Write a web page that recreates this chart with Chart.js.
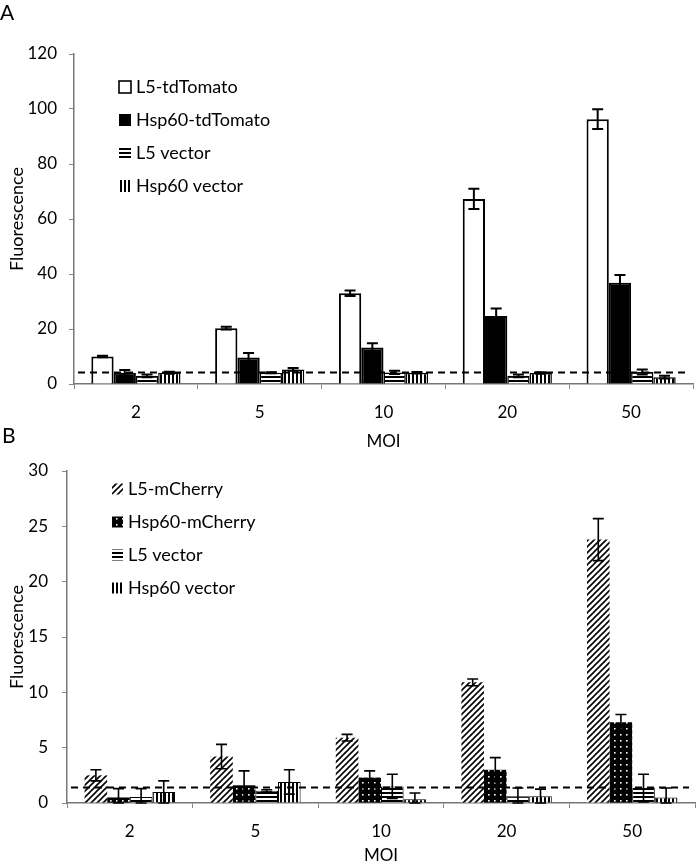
<!DOCTYPE html>
<html>
<head>
<meta charset="utf-8">
<script src="https://cdn.jsdelivr.net/npm/chart.js@4.4.1/dist/chart.umd.min.js"></script>
<style>
  body { margin: 0; background: #fff; width: 698px; height: 864px; position: relative; overflow: hidden; font-family: Lato, sans-serif; }
  canvas { position: absolute; left: 0; }
  #chartA { top: 0; }
  #chartB { top: 444px; }
  .letter { position: absolute; font-size: 21px; line-height: 1; color: #000; z-index: 2; }
</style>
</head>
<body>
<div class="letter" style="left:0px;top:1px">A</div>
<div class="letter" style="left:2px;top:424px">B</div>
<canvas id="chartA" width="698" height="452"></canvas>
<canvas id="chartB" width="698" height="422"></canvas>
<script>
// MOI categories (same for both panels)
var moiLabels = ['2', '5', '10', '20', '50'];

// panel A - tdTomato
var l5Tomato      = [10.0, 20.3, 33.0, 67.3, 96.3];
var l5TomatoErr   = [0.3, 0.5, 1.0, 3.7, 3.6];
var hspTomato     = [4.1, 9.6, 13.3, 24.7, 36.8];
var hspTomatoErr  = [1.0, 1.7, 1.5, 2.8, 2.8];
var l5VectorA     = [3.0, 4.1, 4.2, 3.0, 4.4];
var l5VectorAErr  = [0.5, 0.2, 0.6, 0.5, 0.9];
var hspVectorA    = [4.1, 5.3, 4.1, 4.0, 2.5];
var hspVectorAErr = [0.4, 0.5, 0.3, 0.3, 0.5];
var cutoffA = 4.2;

// panel B - mCherry
var l5Cherry      = [2.5, 4.2, 5.9, 10.9, 23.8];
var l5CherryErr   = [0.5, 1.1, 0.3, 0.3, 1.9];
var hspCherry     = [0.5, 1.6, 2.3, 3.0, 7.3];
var hspCherryErr  = [0.8, 1.3, 0.6, 1.1, 0.7];
var l5VectorB     = [0.55, 1.1, 1.5, 0.6, 1.35];
var l5VectorBErr  = [0.75, 0.1, 1.1, 0.75, 1.25];
var hspVectorB    = [1.0, 1.9, 0.35, 0.6, 0.5];
var hspVectorBErr = [1.0, 1.1, 0.55, 0.65, 0.85];
var cutoffB = 1.4;

Chart.defaults.font.family = 'Lato, sans-serif';
Chart.defaults.color = '#000';

// little tiles used as bar fills
function makePattern(kind) {
    var c = document.createElement('canvas');
    var size = kind === 'diag' || kind === 'dots' ? 6 : 4;
    c.width = size; c.height = size;
    var g = c.getContext('2d');
    g.fillStyle = kind === 'dots' ? '#000' : '#fff';
    g.fillRect(0, 0, size, size);
    g.fillStyle = '#000';
    if (kind === 'hstripe') {
        g.fillRect(0, 0, size, 2);
    } else if (kind === 'vstripe') {
        g.fillRect(0, 0, 2, size);
    } else if (kind === 'diag') {
        g.strokeStyle = '#000';
        g.lineWidth = 1.6;
        g.beginPath();
        g.moveTo(0, 6); g.lineTo(6, 0);
        g.moveTo(-1, 1); g.lineTo(1, -1);
        g.moveTo(5, 7); g.lineTo(7, 5);
        g.stroke();
    } else if (kind === 'dots') {
        g.fillStyle = '#fff';
        g.fillRect(2, 2, 1.6, 1.6);
    }
    return g.createPattern(c, 'repeat');
}

var errorBars = {
    id: 'errorBars',
    afterDatasetsDraw: function(chart, args, opts) {
        var ctx = chart.ctx;
        var y = chart.scales.y;
        ctx.save();
        ctx.strokeStyle = '#000';
        ctx.lineWidth = opts.lineWidth;
        chart.data.datasets.forEach(function(ds, i) {
            var meta = chart.getDatasetMeta(i);
            meta.data.forEach(function(bar, j) {
                var e = ds.errors[j];
                if (!e) return;
                var top = y.getPixelForValue(ds.data[j] + e);
                var bot = y.getPixelForValue(Math.max(ds.data[j] - e, 0));
                var half = opts.cap / 2;
                ctx.beginPath();
                ctx.moveTo(bar.x, top); ctx.lineTo(bar.x, bot);
                ctx.moveTo(bar.x - half, top); ctx.lineTo(bar.x + half, top);
                ctx.moveTo(bar.x - half, bot); ctx.lineTo(bar.x + half, bot);
                ctx.stroke();
            });
        });
        ctx.restore();
    }
};

var cutoffLine = {
    id: 'cutoffLine',
    afterDatasetsDraw: function(chart, args, opts) {
        var ctx = chart.ctx;
        var area = chart.chartArea;
        var py = chart.scales.y.getPixelForValue(opts.value);
        ctx.save();
        ctx.strokeStyle = '#000';
        ctx.lineWidth = 2;
        ctx.setLineDash([7, 5]);
        ctx.beginPath();
        ctx.moveTo(area.left + 4, py);
        ctx.lineTo(area.right - 6, py);
        ctx.stroke();
        ctx.restore();
    }
};

var insideLegend = {
    id: 'insideLegend',
    afterDraw: function(chart, args, opts) {
        var ctx = chart.ctx;
        ctx.save();
        ctx.font = opts.size + 'px Lato, sans-serif';
        ctx.textBaseline = 'middle';
        chart.data.datasets.forEach(function(ds, i) {
            var y = opts.y + i * opts.step;
            var b = opts.box;
            ctx.fillStyle = ds.backgroundColor;
            ctx.fillRect(opts.x, y - b / 2, b, b);
            if (ds.legendBorder) {
                ctx.strokeStyle = '#000';
                ctx.lineWidth = 1.6;
                ctx.strokeRect(opts.x, y - b / 2, b, b);
            }
            ctx.fillStyle = '#000';
            ctx.fillText(ds.label, opts.x + b + opts.gap, y);
        });
        ctx.restore();
    }
};

function panelOptions(cfg) {
    return {
        responsive: false,
        animation: false,
        layout: { padding: { top: cfg.top, right: cfg.right, left: 0, bottom: 0 } },
        datasets: { bar: { categoryPercentage: 0.72, barPercentage: 1.0 } },
        plugins: {
            legend: { display: false },
            tooltip: { enabled: false },
            errorBars: { lineWidth: cfg.errWidth, cap: 11 },
            cutoffLine: { value: cfg.cutoff },
            insideLegend: cfg.legend
        },
        scales: {
            x: {
                afterFit: function(scale) { scale.height = cfg.xHeight; },
                grid: { display: true, drawOnChartArea: false, drawTicks: true, tickLength: 5, color: '#888', offset: true },
                border: { display: true, color: '#777', width: 1.5 },
                ticks: { font: { size: 17 }, padding: 13 },
                title: { display: true, text: 'MOI', font: { size: 17 }, padding: 0 }
            },
            y: {
                min: 0,
                max: cfg.max,
                afterFit: function(scale) { scale.width = cfg.yWidth; },
                grid: { display: true, drawOnChartArea: false, drawTicks: true, tickLength: 5, color: '#888' },
                border: { display: true, color: '#777', width: 1.5 },
                ticks: { stepSize: cfg.step, font: { size: 17 }, padding: cfg.yPad },
                title: { display: true, text: 'Fluorescence', font: { size: 18 }, padding: { top: 6, bottom: 0 } }
            }
        }
    };
}

new Chart(document.getElementById('chartA'), {
    type: 'bar',
    data: {
        labels: moiLabels,
        datasets: [
            { label: 'L5-tdTomato', data: l5Tomato, errors: l5TomatoErr, backgroundColor: '#fff', borderColor: '#000', borderWidth: 2, legendBorder: true },
            { label: 'Hsp60-tdTomato', data: hspTomato, errors: hspTomatoErr, backgroundColor: '#000', borderColor: '#000', borderWidth: 2 },
            { label: 'L5 vector', data: l5VectorA, errors: l5VectorAErr, backgroundColor: makePattern('hstripe'), borderColor: '#000', borderWidth: 1.5 },
            { label: 'Hsp60 vector', data: hspVectorA, errors: hspVectorAErr, backgroundColor: makePattern('vstripe'), borderColor: '#000', borderWidth: 1.5 }
        ]
    },
    options: panelOptions({
        top: 54, right: 5, xHeight: 68, yWidth: 74, yPad: 12, max: 120, step: 20,
        errWidth: 2, cutoff: cutoffA,
        legend: { x: 119, y: 87, step: 33, box: 12, gap: 5, size: 18 }
    }),
    plugins: [errorBars, cutoffLine, insideLegend]
});

new Chart(document.getElementById('chartB'), {
    type: 'bar',
    data: {
        labels: moiLabels,
        datasets: [
            { label: 'L5-mCherry', data: l5Cherry, errors: l5CherryErr, backgroundColor: makePattern('diag'), borderWidth: 0 },
            { label: 'Hsp60-mCherry', data: hspCherry, errors: hspCherryErr, backgroundColor: makePattern('dots'), borderWidth: 0 },
            { label: 'L5 vector', data: l5VectorB, errors: l5VectorBErr, backgroundColor: makePattern('hstripe'), borderColor: '#000', borderWidth: 1 },
            { label: 'Hsp60 vector', data: hspVectorB, errors: hspVectorBErr, backgroundColor: makePattern('vstripe'), borderColor: '#000', borderWidth: 1 }
        ]
    },
    options: panelOptions({
        top: 27, right: 3, xHeight: 63, yWidth: 67, yPad: 14, max: 30, step: 5,
        errWidth: 1.6, cutoff: cutoffB,
        legend: { x: 112, y: 45, step: 33, box: 11, gap: 5, size: 18 }
    }),
    plugins: [errorBars, cutoffLine, insideLegend]
});
</script>
</body>
</html>
